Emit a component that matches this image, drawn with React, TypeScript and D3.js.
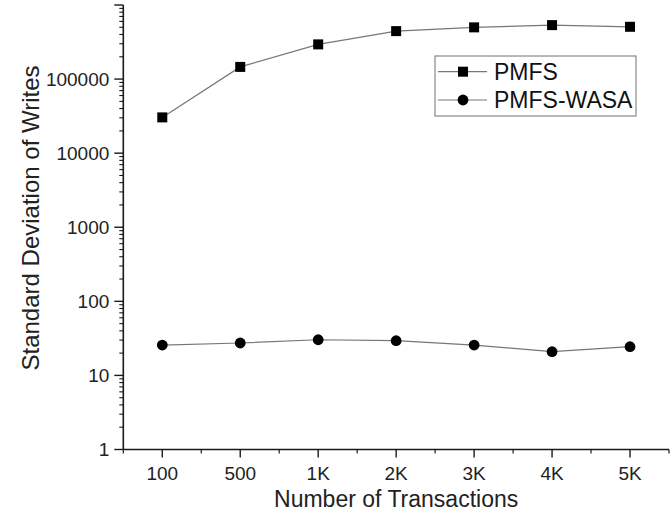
import React from "react";
import * as d3 from "d3";

// Transaction counts along the x axis
const categories = ["100", "500", "1K", "2K", "3K", "4K", "5K"];
// Standard deviation of writes per configuration
const pmfs = [30400, 146000, 294000, 444000, 499000, 535000, 508000];
const pmfsWasa = [25.7, 27.4, 30.3, 29.4, 25.7, 20.9, 24.4];
const yTickValues = [1, 10, 100, 1000, 10000, 100000];
const seriesNames = ["PMFS", "PMFS-WASA"];

const W = 672;
const H = 516;
const FONT = "'Liberation Sans', Arial, Helvetica, sans-serif";

export default function App() {
  const left = 123.3;
  const right = 669;
  const top = 5;
  const bottom = 449.5;

  const x = d3.scaleLinear().domain([-0.5, categories.length - 0.5]).range([left, right]);
  const y = d3.scaleLog().domain([1, 1e6]).range([bottom, top]);

  const line = d3
    .line<number>()
    .x((_, i) => x(i))
    .y((d) => y(d));

  // minor ticks on the log axis
  const minorY: number[] = [];
  for (let e = 0; e < 6; e++) {
    for (let m = 2; m <= 9; m++) minorY.push(m * Math.pow(10, e));
  }
  const minorX = d3.range(-0.5, categories.length, 1);

  const axisColor = "#1a1a1a";
  const lineColor = "#777";

  return (
    <svg
      width={W}
      height={H}
      style={{ position: "absolute", left: 0, top: 0, background: "#fff" }}
      fontFamily={FONT}
    >
      <rect x={0} y={0} width={W} height={H} fill="#fff" />

      {/* data lines */}
      <path d={line(pmfs) || ""} fill="none" stroke={lineColor} strokeWidth={1.2} />
      <path d={line(pmfsWasa) || ""} fill="none" stroke={lineColor} strokeWidth={1.2} />

      {/* markers */}
      {pmfs.map((v, i) => (
        <rect key={"s" + i} x={x(i) - 5} y={y(v) - 5} width={10} height={10} fill="#000" />
      ))}
      {pmfsWasa.map((v, i) => (
        <circle key={"c" + i} cx={x(i)} cy={y(v)} r={5.4} fill="#000" />
      ))}

      {/* y axis */}
      <line x1={left} x2={left} y1={top} y2={bottom} stroke={axisColor} strokeWidth={1.6} />
      {minorY.map((v, i) => (
        <line key={"my" + i} x1={left - 4} x2={left} y1={y(v)} y2={y(v)} stroke={axisColor} strokeWidth={1.1} />
      ))}
      {[...yTickValues, 1e6].map((v, i) => (
        <line key={"My" + i} x1={left - 9} x2={left} y1={y(v)} y2={y(v)} stroke={axisColor} strokeWidth={1.4} />
      ))}
      {yTickValues.map((v, i) => (
        <text
          key={"ly" + i}
          x={left - 14}
          y={y(v)}
          dy="0.35em"
          textAnchor="end"
          fontSize={19}
          fill="#222"
        >
          {String(v)}
        </text>
      ))}

      {/* x axis */}
      <line x1={left} x2={right} y1={bottom} y2={bottom} stroke={axisColor} strokeWidth={1.6} />
      {minorX.map((v, i) => (
        <line key={"mx" + i} x1={x(v)} x2={x(v)} y1={bottom} y2={bottom + 4} stroke={axisColor} strokeWidth={1.2} />
      ))}
      {categories.map((c, i) => (
        <g key={"lx" + i}>
          <line x1={x(i)} x2={x(i)} y1={bottom} y2={bottom + 8} stroke={axisColor} strokeWidth={1.4} />
          <text x={x(i)} y={479.5} textAnchor="middle" fontSize={19} fill="#222">
            {c}
          </text>
        </g>
      ))}

      {/* axis titles */}
      <text x={(left + right) / 2} y={507} textAnchor="middle" fontSize={23} fill="#222">
        Number of Transactions
      </text>
      <text
        transform={`translate(38.5, 218) rotate(-90)`}
        textAnchor="middle"
        fontSize={24}
        fill="#222"
      >
        Standard Deviation of Writes
      </text>

      {/* legend */}
      <rect x={435} y={56} width={201} height={60} fill="#fff" stroke="#888" strokeWidth={1.2} />
      {seriesNames.map((name, i) => {
        const ly = 71.7 + i * 28.3;
        return (
          <g key={"lg" + i}>
            <line x1={438} x2={487} y1={ly} y2={ly} stroke={lineColor} strokeWidth={1.2} />
            {i === 0 ? (
              <rect x={463 - 5} y={ly - 5} width={10} height={10} fill="#000" />
            ) : (
              <circle cx={463} cy={ly} r={5.4} fill="#000" />
            )}
            <text x={494} y={ly} dy="0.36em" fontSize={23} fill="#111">
              {name}
            </text>
          </g>
        );
      })}
    </svg>
  );
}
